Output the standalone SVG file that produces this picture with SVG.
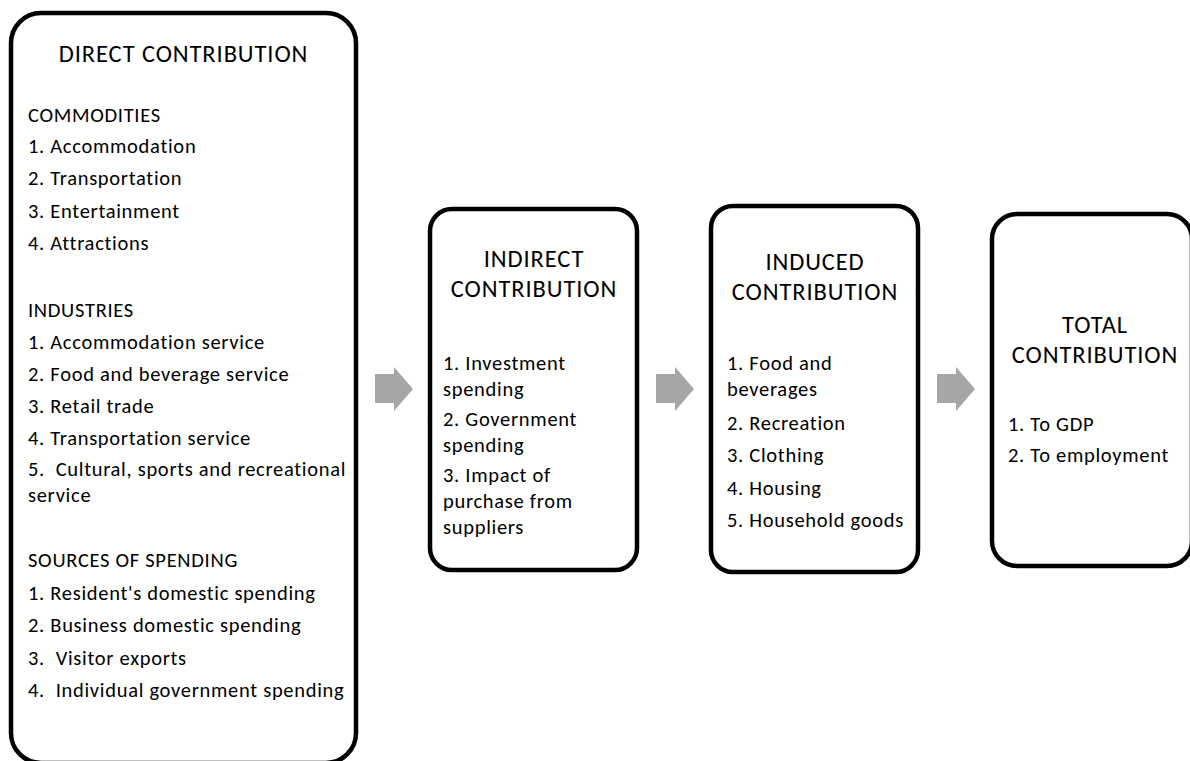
<svg xmlns="http://www.w3.org/2000/svg" xmlns:xlink="http://www.w3.org/1999/xlink" width="1190" height="761" viewBox="0 0 1190 761">
  <style>
    .box { fill: #ffffff; stroke: #000000; stroke-width: 4.5; }
    .title { font-family: Carlito, Lato, "Liberation Sans", sans-serif; font-size: 24.5px; letter-spacing: 0.9px; fill: #000000; text-anchor: middle; }
    .item { font-family: Carlito, Lato, "Liberation Sans", sans-serif; font-size: 20.5px; letter-spacing: 0.7px; fill: #000000; }
    .arrow { fill: #a6a6a6; }
  </style>
  <defs>
    <!-- block arrow, shaft starts at x=0 -->
    <path id="blockArrow" d="M0,374 H19 V367 L38,389 L19,411 V403 H0 Z"/>
  </defs>
  <rect width="1190" height="761" fill="#ffffff"/>

  <g id="direct">
    <rect class="box" x="11" y="13" width="345" height="750" rx="30" ry="30"/>
    <text class="title" x="183.5" y="62">DIRECT CONTRIBUTION</text>
    <text class="item" x="28" y="122">COMMODITIES</text>
    <text class="item" x="28" y="153">1. Accommodation</text>
    <text class="item" x="28" y="185">2. Transportation</text>
    <text class="item" x="28" y="218">3. Entertainment</text>
    <text class="item" x="28" y="250">4. Attractions</text>
    <text class="item" x="28" y="317">INDUSTRIES</text>
    <text class="item" x="28" y="349">1. Accommodation service</text>
    <text class="item" x="28" y="381">2. Food and beverage service</text>
    <text class="item" x="28" y="413">3. Retail trade</text>
    <text class="item" x="28" y="445">4. Transportation service</text>
    <text class="item" x="28" y="476">5.&#160; Cultural, sports and recreational</text>
    <text class="item" x="28" y="502">service</text>
    <text class="item" x="28" y="567">SOURCES OF SPENDING</text>
    <text class="item" x="28" y="600">1. Resident's domestic spending</text>
    <text class="item" x="28" y="632">2. Business domestic spending</text>
    <text class="item" x="28" y="665">3.&#160; Visitor exports</text>
    <text class="item" x="28" y="697">4.&#160; Individual government spending</text>
  </g>

  <g id="indirect">
    <rect class="box" x="430" y="209" width="207" height="361" rx="22" ry="22"/>
    <text class="title" x="534" y="267">INDIRECT</text>
    <text class="title" x="534" y="297">CONTRIBUTION</text>
    <text class="item" x="443" y="370">1. Investment</text>
    <text class="item" x="443" y="396">spending</text>
    <text class="item" x="443" y="426">2. Government</text>
    <text class="item" x="443" y="452">spending</text>
    <text class="item" x="443" y="482">3. Impact of</text>
    <text class="item" x="443" y="508">purchase from</text>
    <text class="item" x="443" y="534">suppliers</text>
  </g>

  <g id="induced">
    <rect class="box" x="711" y="206" width="207" height="366" rx="22" ry="22"/>
    <text class="title" x="815" y="270">INDUCED</text>
    <text class="title" x="815" y="300">CONTRIBUTION</text>
    <text class="item" x="727" y="370">1. Food and</text>
    <text class="item" x="727" y="396">beverages</text>
    <text class="item" x="727" y="430">2. Recreation</text>
    <text class="item" x="727" y="462">3. Clothing</text>
    <text class="item" x="727" y="495">4. Housing</text>
    <text class="item" x="727" y="527">5. Household goods</text>
  </g>

  <g id="total">
    <rect class="box" x="992" y="214" width="200" height="352" rx="25" ry="25"/>
    <text class="title" x="1095" y="333">TOTAL</text>
    <text class="title" x="1095" y="363">CONTRIBUTION</text>
    <text class="item" x="1008" y="431">1. To GDP</text>
    <text class="item" x="1008" y="462">2. To employment</text>
  </g>

  <g id="connectors">
    <use class="arrow" xlink:href="#blockArrow" transform="translate(375,0)"/>
    <use class="arrow" xlink:href="#blockArrow" transform="translate(656,0)"/>
    <use class="arrow" xlink:href="#blockArrow" transform="translate(937,0)"/>
  </g>
</svg>
